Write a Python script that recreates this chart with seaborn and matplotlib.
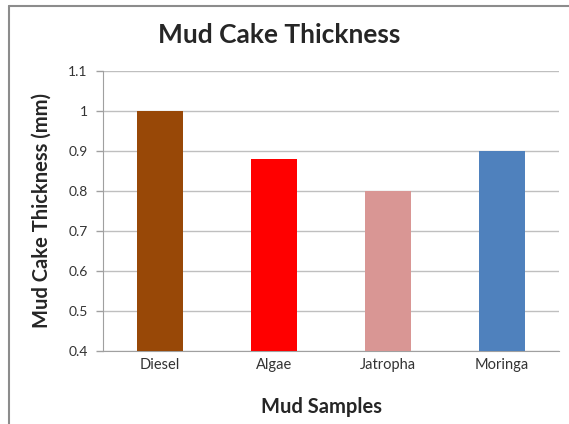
import pandas as pd
import numpy as np
import seaborn as sns
import matplotlib.pyplot as plt
from matplotlib.lines import Line2D

samples = ["Diesel", "Algae", "Jatropha", "Moringa"]
thickness = [1.0, 0.88, 0.80, 0.90]
bar_colors = ["#984807", "#FF0000", "#D99694", "#4F81BD"]
y_ticks = [0.4, 0.5, 0.6, 0.7, 0.8, 0.9, 1.0, 1.1]
y_tick_labels = ["0.4", "0.5", "0.6", "0.7", "0.8", "0.9", "1", "1.1"]

df = pd.DataFrame({"sample": samples, "thickness": thickness})

sns.set_style("white")
plt.rcParams["font.family"] = ["Lato", "DejaVu Sans"]

fig = plt.figure(figsize=(5.69, 4.24), dpi=100)
ax = fig.add_axes([103 / 569, 1 - 351 / 424, 456 / 569, 280 / 424])

# chart frame (left and top edges visible in the crop)
fig.add_artist(Line2D([8.5 / 569, 8.5 / 569], [0, 1 - 6 / 424],
                      transform=fig.transFigure, color="#8c8c8c", lw=1.5))
fig.add_artist(Line2D([8.5 / 569, 1], [1 - 6 / 424, 1 - 6 / 424],
                      transform=fig.transFigure, color="#8c8c8c", lw=1.5))

sns.barplot(data=df, x="sample", y="thickness", hue="sample",
            palette=bar_colors, width=0.4, saturation=1, legend=False, ax=ax,
            linewidth=0, zorder=3)

ax.set_ylim(0.4, 1.1)
ax.set_xlim(-0.5, 3.5)
ax.set_yticks(y_ticks)
ax.set_yticklabels(y_tick_labels, fontsize=10, color="#333333")
ax.tick_params(axis="y", length=5, color="#a0a0a0", width=1, left=True, pad=6)
ax.tick_params(axis="x", length=0, labelsize=10.5, labelcolor="#333333", pad=5)
ax.yaxis.grid(True, color="#bfbfbf", lw=1, zorder=0)
ax.set_axisbelow(True)

for side in ["top", "right"]:
    ax.spines[side].set_visible(False)
ax.spines["left"].set_color("#a0a0a0")
ax.spines["bottom"].set_color("#a0a0a0")

ax.set_xlabel("Mud Samples", fontsize=14.5, fontweight="bold", labelpad=18)
ax.xaxis.set_label_coords(0.48, -0.165)
ax.set_ylabel("Mud Cake Thickness (mm)", fontsize=14.5, fontweight="bold", labelpad=12)
fig.text(279 / 569, 1 - 35 / 424, "Mud Cake Thickness", fontsize=19,
         fontweight="bold", ha="center", va="center")

fig.savefig("out.png", dpi=100)
